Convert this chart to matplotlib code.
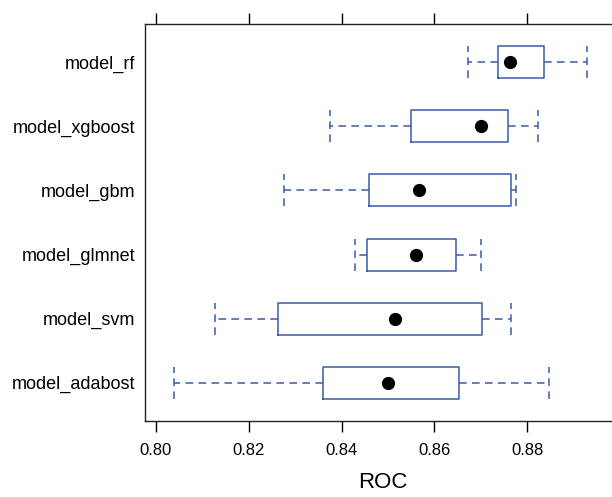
import matplotlib
matplotlib.use("Agg")
import matplotlib.pyplot as plt

plt.rcParams['font.family'] = ['Liberation Sans', 'DejaVu Sans']

# bottom to top, as lattice draws them
models = ['model_adabost', 'model_svm', 'model_glmnet', 'model_gbm', 'model_xgboost', 'model_rf']
whisk_lo = [0.8039, 0.8127, 0.8428, 0.8276, 0.8375, 0.8672]
q1 = [0.8360, 0.8263, 0.8454, 0.8459, 0.8550, 0.8738]
median = [0.8500, 0.8515, 0.8560, 0.8566, 0.8700, 0.8762]
q3 = [0.8653, 0.8703, 0.8647, 0.8764, 0.8759, 0.8837]
whisk_hi = [0.8846, 0.8766, 0.8701, 0.8775, 0.8823, 0.8929]

x_ticks = [0.80, 0.82, 0.84, 0.86, 0.88]

col = '#3b5ba5'

fig = plt.figure(figsize=(6.12, 4.97), dpi=100)
ax = fig.add_axes([0.2374, 0.1529, 0.7757, 0.7988])

stats = []
for i in range(len(models)):
    stats.append({'whislo': whisk_lo[i], 'q1': q1[i], 'med': median[i],
                  'q3': q3[i], 'whishi': whisk_hi[i], 'fliers': []})

pos = list(range(1, len(models) + 1))
ax.bxp(stats, positions=pos, widths=0.5, capwidths=0.5, orientation='horizontal',
       boxprops=dict(color=col, linewidth=1.1),
       whiskerprops=dict(color=col, linewidth=1.1, linestyle=(0, (5, 3.5))),
       capprops=dict(color=col, linewidth=1.1, linestyle=(0, (5, 3.5))),
       medianprops=dict(visible=False), showfliers=False)
ax.plot(median, pos, 'o', color='black', markersize=8.5, zorder=5)

ax.set_xlim(0.7977, 0.9)
ax.set_ylim(0.4, 6.6)
ax.set_xticks(x_ticks)
ax.set_xticklabels(['%.2f' % t for t in x_ticks])
ax.set_yticks(pos)
ax.set_yticklabels(models)

ax.tick_params(axis='x', which='both', direction='out', length=8, width=1,
               top=True, bottom=True, labeltop=False, labelsize=12, pad=8)
ax.tick_params(axis='y', length=0, labelsize=13, pad=7)

for s in ax.spines.values():
    s.set_linewidth(1.0)
    s.set_color('#222222')

ax.set_xlabel('ROC', fontsize=16, labelpad=10)

fig.savefig('out.png', dpi=100)
